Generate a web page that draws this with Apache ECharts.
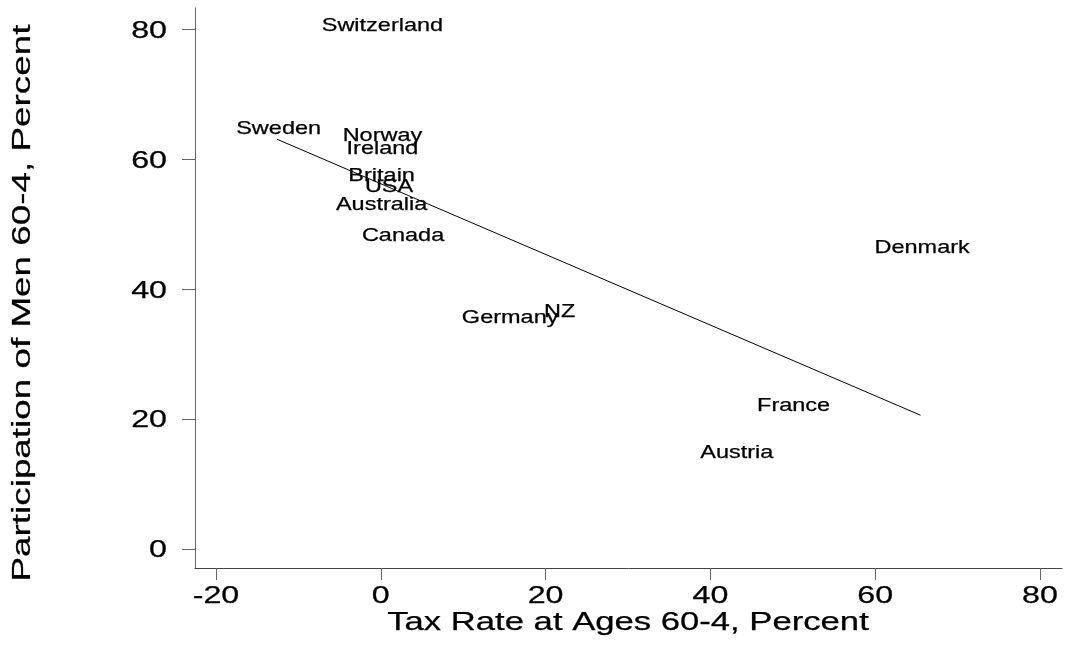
<!DOCTYPE html>
<html>
<head>
<meta charset="utf-8">
<script src="https://cdn.jsdelivr.net/npm/echarts@6/dist/echarts.min.js"></script>
<style>
  html, body { margin: 0; padding: 0; background: #fff; }
  #chart { width: 1069px; height: 645px; }
</style>
</head>
<body>
<div id="chart"></div>
<script>
// country labels are the markers (label centred on the point)
const countries = ['Switzerland', 'Sweden', 'Norway', 'Ireland', 'Britain', 'USA', 'Australia',
  'Canada', 'Germany', 'NZ', 'France', 'Austria', 'Denmark'];
const taxRate = [0.2, -12.4, 0.2, 0.2, 0.1, 1.0, 0.1, 2.7, 15.7, 21.7, 50.1, 43.2, 65.7];
const participation = [80.7, 64.8, 63.7, 61.7, 57.6, 55.9, 53.1, 48.3, 35.7, 36.6, 22.2, 14.9, 46.5];

// fitted line end points
const fitX = [-12.6, 65.5];
const fitY = [63.1, 20.6];

const xTicks = [-20, 0, 20, 40, 60, 80];
const yTicks = [0, 20, 40, 60, 80];

const X_MIN = -22.55, X_MAX = 82.67;
const Y_MIN = -2.93, Y_MAX = 83.31;

const FONT = '"Liberation Sans", Arial, sans-serif';

const chart = echarts.init(document.getElementById('chart'));

function textEl(x, y, text, size, stretch, align) {
  return {
    type: 'text', x: x, y: y, scaleX: stretch,
    style: { text: text, fontSize: size, fontFamily: FONT, fill: '#000',
      stroke: '#000', lineWidth: 0.25,
      align: align, verticalAlign: 'middle' }
  };
}

chart.setOption({
  animation: false,
  backgroundColor: '#fff',
  grid: { left: 195, right: 7, top: 8, bottom: 77, outerBoundsMode: 'none' },
  xAxis: {
    type: 'value', min: X_MIN, max: X_MAX,
    splitLine: { show: false },
    axisLine: { show: true, onZero: false, lineStyle: { color: '#444', width: 1 } },
    axisTick: { show: true, length: 12, customValues: xTicks, lineStyle: { color: '#666' } },
    axisLabel: { show: false }
  },
  yAxis: {
    type: 'value', min: Y_MIN, max: Y_MAX,
    splitLine: { show: false },
    axisLine: { show: true, onZero: false, lineStyle: { color: '#666', width: 1 } },
    axisTick: { show: true, length: 13, customValues: yTicks, lineStyle: { color: '#666' } },
    axisLabel: { show: false }
  },
  graphic: [
    textEl(628, 623, 'Tax Rate at Ages 60-4, Percent', 25, 1.386, 'center'),
    Object.assign(textEl(23, 303, 'Participation of Men 60-4, Percent', 26.5, 1.39, 'center'),
      { rotation: Math.PI / 2 })
  ],
  series: [
    {
      type: 'line',
      data: fitX.map((x, i) => [x, fitY[i]]),
      symbol: 'none',
      silent: true,
      lineStyle: { color: '#000', width: 1 }
    },
    {
      type: 'custom',
      silent: true,
      data: taxRate.map((x, i) => [x, participation[i]]),
      renderItem: function (params, api) {
        const p = api.coord([api.value(0), api.value(1)]);
        return textEl(p[0], p[1] + 1, countries[params.dataIndex], 18.5, 1.27, 'center');
      }
    },
    {
      // x tick labels
      type: 'custom',
      silent: true,
      data: xTicks.map(v => [v, Y_MIN]),
      renderItem: function (params, api) {
        const p = api.coord([api.value(0), Y_MIN]);
        return textEl(p[0], p[1] + 29, String(xTicks[params.dataIndex]), 23, 1.4, 'center');
      }
    },
    {
      // y tick labels
      type: 'custom',
      silent: true,
      data: yTicks.map(v => [X_MIN, v]),
      renderItem: function (params, api) {
        const p = api.coord([X_MIN, api.value(1)]);
        return textEl(p[0] - 28, p[1] + 2, String(yTicks[params.dataIndex]), 23, 1.4, 'right');
      }
    }
  ]
});
</script>
</body>
</html>
